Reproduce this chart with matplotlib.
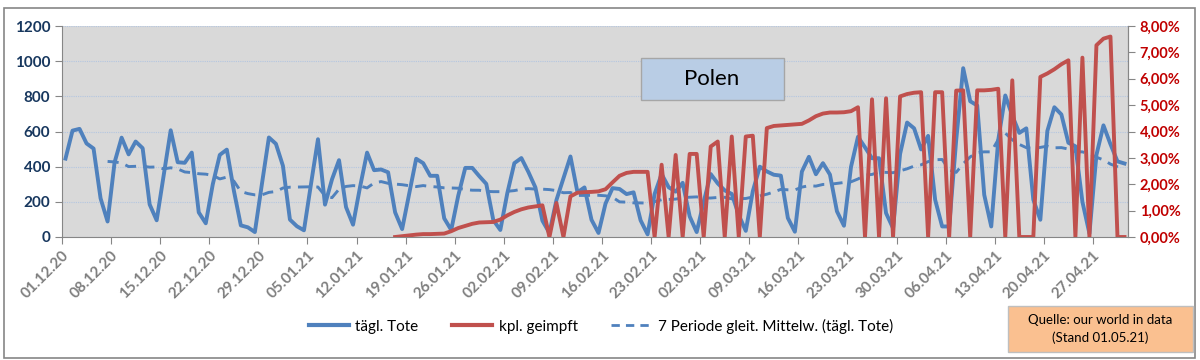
import numpy as np
import pandas as pd
import matplotlib
matplotlib.use("Agg")
import matplotlib.pyplot as plt
from matplotlib.patches import Rectangle
from matplotlib.lines import Line2D

plt.rcParams['font.family'] = ['Lato', 'DejaVu Sans']

# tägl. Tote, 01.12.20 .. 01.05.21 (one value per day)
deaths = [446, 605, 615, 532, 503, 220, 88, 425, 565, 470,
          543, 505, 185, 95, 350, 607, 425, 422, 480, 140,
          78, 300, 467, 497, 265, 66, 55, 28, 300, 566,
          530, 405, 99, 61, 38, 300, 556, 184, 328, 437,
          170, 70, 285, 480, 380, 384, 368, 140, 45, 245,
          445, 420, 348, 348, 106, 40, 235, 393, 393, 346,
          302, 96, 40, 250, 420, 449, 370, 282, 93, 23,
          210, 335, 458, 254, 282, 98, 23, 190, 278, 273,
          244, 254, 95, 15, 245, 358, 283, 258, 308, 117,
          28, 200, 358, 305, 265, 245, 125, 35, 260, 400,
          373, 354, 349, 108, 30, 372, 456, 357, 420, 355,
          146, 64, 398, 570, 510, 448, 448, 136, 50, 472,
          651, 618, 498, 575, 212, 60, 60, 550, 960, 772,
          748, 240, 60, 552, 805, 690, 592, 618, 212, 98,
          603, 738, 697, 536, 516, 200, 20, 467, 635, 528,
          430, 418]

# kpl. geimpft in %, starts 17.01.21 (0 = missing report in the source)
vacc_start = 47
vaccinated = [0.00, 0.03, 0.06, 0.09, 0.11, 0.11, 0.12, 0.13, 0.22, 0.34,
              0.42, 0.50, 0.55, 0.56, 0.57, 0.66, 0.82, 0.95, 1.05, 1.12,
              1.16, 1.20, 0.00, 1.29, 0.00, 1.54, 1.68, 1.70, 1.71, 1.73,
              1.81, 2.07, 2.32, 2.43, 2.47, 2.47, 2.47, 0.00, 2.74, 0.00,
              3.11, 0.00, 3.15, 3.15, 0.00, 3.43, 3.62, 0.00, 3.81, 0.00,
              3.81, 3.84, 0.00, 4.13, 4.21, 4.23, 4.25, 4.27, 4.29, 4.42,
              4.58, 4.68, 4.72, 4.72, 4.73, 4.77, 4.92, 0.00, 5.22, 0.00,
              5.26, 0.00, 5.33, 5.42, 5.47, 5.49, 0.00, 5.49, 5.49, 0.00,
              5.55, 5.56, 0.00, 5.56, 5.56, 5.58, 5.62, 0.00, 5.94, 0.00,
              0.00, 0.00, 6.07, 6.20, 6.36, 6.55, 6.70, 0.00, 6.80, 0.00,
              7.27, 7.52, 7.60, 0.00, 0.00]

tick_labels = ['01.12.20', '08.12.20', '15.12.20', '22.12.20', '29.12.20',
               '05.01.21', '12.01.21', '19.01.21', '26.01.21', '02.02.21',
               '09.02.21', '16.02.21', '23.02.21', '02.03.21', '09.03.21',
               '16.03.21', '23.03.21', '30.03.21', '06.04.21', '13.04.21',
               '20.04.21', '27.04.21']

BLUE = '#4F81BD'
RED = '#C0504D'

n = len(deaths)
x = np.arange(n) + 0.5
vacc = np.full(n, np.nan)
vacc[vacc_start:vacc_start + len(vaccinated)] = np.array(vaccinated) / 100
ma7 = pd.Series(deaths).rolling(7).mean()   # Excel-Trendlinie, 7 Perioden

fig = plt.figure(figsize=(12, 3.6), dpi=100)
fig.patches.append(Rectangle((4 / 1200, 2 / 360), 1191 / 1200, 350 / 360,
                             transform=fig.transFigure, fill=False,
                             edgecolor='#868686', lw=1.2))

ax = fig.add_axes([62 / 1200, 1 - 237 / 360, 1066 / 1200, 211 / 360])
ax.set_facecolor('#D9D9D9')
ax.plot(x, deaths, color=BLUE, lw=2.8, zorder=3)
ax.plot(x, ma7, color=BLUE, lw=2.1, dashes=(3.8, 2.5), zorder=4)
ax.set_xlim(0, 152)
ax.set_ylim(0, 1200)
ax.set_yticks(range(0, 1201, 200))
ax.set_xticks(range(0, 7 * len(tick_labels), 7))
ax.set_xticklabels(tick_labels, rotation=45, ha='right', va='top',
                   rotation_mode='anchor', color='#7F7F7F',
                   fontweight='bold', fontsize=11)
ax.grid(axis='y', color='#B4C6E0', lw=0.8, linestyle=(0, (1, 1)))
ax.set_axisbelow(True)
for lab in ax.get_yticklabels():
    lab.set_color('#17375E')
    lab.set_fontweight('bold')
    lab.set_fontsize(11)
ax.tick_params(axis='both', direction='out', length=5, color='#868686')
ax.tick_params(axis='x', pad=3)
ax.spines['top'].set_visible(False)
for s in ['left', 'bottom', 'right']:
    ax.spines[s].set_color('#868686')

ax2 = ax.twinx()
ax2.plot(x, vacc, color=RED, lw=2.8, zorder=5)
ax2.set_ylim(0, 0.08)
pct_ticks = np.arange(0, 0.081, 0.01)
ax2.set_yticks(pct_ticks)
ax2.set_yticklabels([('%.2f%%' % (v * 100)).replace('.', ',') for v in pct_ticks],
                    color='#C00000', fontweight='bold', fontsize=10.5)
ax2.tick_params(axis='y', direction='out', length=5, color='#868686')
ax2.spines['top'].set_visible(False)
ax2.spines['right'].set_color('#868686')
ax2.spines['left'].set_visible(False)
ax2.spines['bottom'].set_visible(False)

# Titelbox
fig.patches.append(Rectangle((641 / 1200, 1 - 100 / 360), 143 / 1200, 42 / 360,
                             transform=fig.transFigure, facecolor='#B9CDE5',
                             edgecolor='#A6A6A6', lw=1, zorder=10))
fig.text(712 / 1200, 1 - 79 / 360, 'Polen', ha='center', va='center',
         fontsize=16, color='black', zorder=11)

# Quellenbox
fig.patches.append(Rectangle((1008 / 1200, 1 - 352 / 360), 185 / 1200, 46 / 360,
                             transform=fig.transFigure, facecolor='#FAC090',
                             edgecolor='#BFBFBF', lw=1, zorder=10))
fig.text(1100 / 1200, 1 - 329 / 360, 'Quelle: our world in data\n(Stand 01.05.21)',
         ha='center', va='center', fontsize=9.5, color='black',
         linespacing=1.5, zorder=11)

handles = [Line2D([], [], color=BLUE, lw=3),
           Line2D([], [], color=RED, lw=3),
           Line2D([], [], color=BLUE, lw=2, dashes=(3, 2.2))]
labels = ['tägl. Tote', 'kpl. geimpft', '7 Periode gleit. Mittelw. (tägl. Tote)']
fig.legend(handles, labels, loc='center', bbox_to_anchor=(601 / 1200, 1 - 326 / 360),
           ncol=3, frameon=False, fontsize=11, handlelength=2.6,
           handletextpad=0.45, columnspacing=2.2)

fig.savefig('out.png', dpi=100)
